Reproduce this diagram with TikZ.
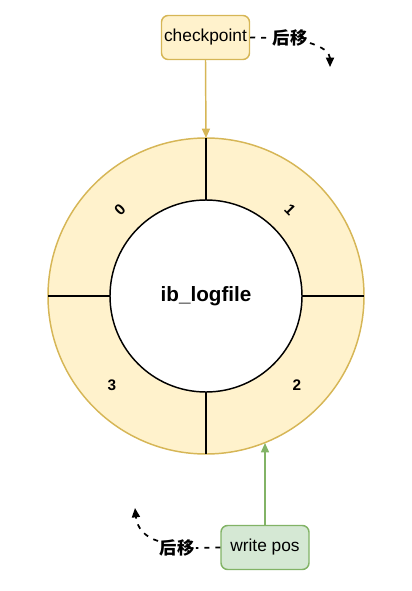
\documentclass[tikz,border=0pt]{standalone}
\usepackage{fontspec}
\setmainfont{Liberation Sans}
\newfontfamily\cjk{Noto Sans CJK SC}
\usetikzlibrary{arrows.meta}
\definecolor{yfill}{HTML}{FFF2CC}
\definecolor{ystroke}{HTML}{D6B656}
\definecolor{gfill}{HTML}{D5E8D4}
\definecolor{gstroke}{HTML}{82B366}
\tikzset{
  box/.style={draw, rounded corners=5pt, line width=1.1pt, minimum width=66pt, minimum height=33pt, inner sep=0pt, font=\fontsize{13}{15}\selectfont},
  seg/.style={font=\bfseries\fontsize{11.5}{13}\selectfont},
  zh/.style={font=\cjk\bfseries\fontsize{13}{15}\selectfont, inner sep=1pt},
  tip/.style={-{Triangle[length=7pt,width=6pt]}},
  dsh/.style={dash pattern=on 3.75pt off 4.5pt, line width=1.3pt},
  ln/.style={line width=1.1pt},
}
\begin{document}
\begin{tikzpicture}[x=0.75pt,y=-0.75pt]
\useasboundingbox (0,0) rectangle (411,591);
% ring
\coordinate (c) at (206,296);
\draw[ystroke, fill=yfill, ln] (c) circle[radius=158];
\draw[ln] (206,138) -- (206,200);
\draw[ln] (206,392) -- (206,454);
\draw[ln] (48,296) -- (110,296);
\draw[ln] (302,296) -- (364,296);
\node[draw, circle, fill=white, ln, minimum size=144pt, inner sep=0pt, font=\bfseries\fontsize{15.5}{17}\selectfont] (inner) at (c) {ib\_logfile};
\node[seg, rotate=45] (s0) at (120,210) {0};
\node[seg, rotate=-45] (s1) at (290,210) {1};
\node[seg] (s2) at (297,385) {2};
\node[seg] (s3) at (112,385) {3};
\coordinate (ringtop) at (206,138);
\coordinate (ringbot) at (265,443);
% checkpoint
\node[box, draw=ystroke, fill=yfill] (cp) at (205.5,37.5) {checkpoint};
\draw[ystroke, ln, tip] (cp.south) -- (ringtop);
\node[zh] (zh1) at (290,38) {后移};
\draw[dsh] (cp.east) -- (zh1.west);
\coordinate (t1s) at (310,43);
\coordinate (t1e) at (330,67);
\draw[dsh, tip] (t1s) .. controls (322,47) and (330,52) .. (t1e);
% write pos
\node[box, draw=gstroke, fill=gfill] (wp) at (265,547.5) {write pos};
\draw[gstroke, ln, tip] (wp.north) -- (ringbot);
\node[zh] (zh2) at (177,548) {后移};
\draw[dsh] (wp.west) -- (zh2.east);
\coordinate (t2s) at (158,541);
\coordinate (t2e) at (135,508);
\draw[dsh, tip] (t2s) .. controls (145,537) and (137,528) .. (t2e);
\end{tikzpicture}
\end{document}
